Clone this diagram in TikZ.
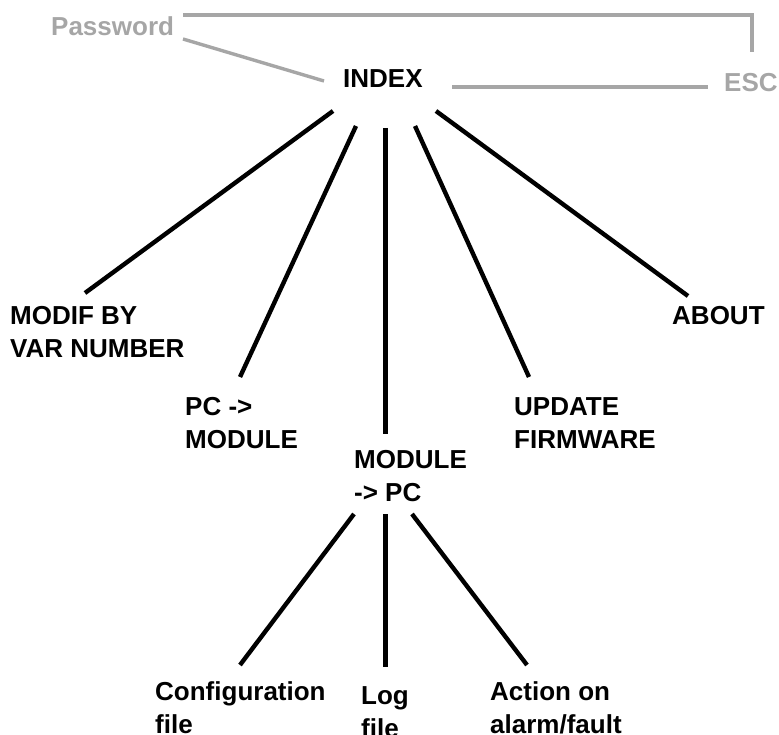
\documentclass[tikz,border=0pt]{standalone}
\usepackage{fontspec}
\setmainfont{Liberation Sans}
\definecolor{linegray}{HTML}{A6A6A6}
\begin{document}
\begin{tikzpicture}[x=1pt,y=-1pt,
  lbl/.style={anchor=north west,inner sep=0pt,align=left,font=\fontsize{26}{33}\selectfont\bfseries},
  glbl/.style={lbl,text=linegray},
  blk/.style={line width=4.4pt,black},
  gry/.style={line width=3.4pt,linegray}]
\useasboundingbox (0,0) rectangle (779,735);
% labels (north = baseline - 18.6)
\node[glbl] (pw) at (51,16.4) {Password};
\node[lbl] (index) at (343,69.4) {INDEX};
\node[glbl] (esc) at (724,73.4) {ESC};
\node[lbl] (modif) at (10,306.4) {MODIF BY\\VAR NUMBER};
\node[lbl] (pcmod) at (185,397.4) {PC ->\\MODULE};
\node[lbl] (modpc) at (354,450.4) {MODULE\\-> PC};
\node[lbl] (upd) at (514,397.4) {UPDATE\\FIRMWARE};
\node[lbl] (about) at (672,306.4) {ABOUT};
\node[lbl] (conf) at (155,681) {Configuration\\file};
\node[lbl] (log) at (361,686) {Log\\file};
\node[lbl] (act) at (490,681) {Action on\\alarm/fault};
% connector end points
\coordinate (pw-t) at (183,15);
\coordinate (corner) at (752,15);
\coordinate (esc-t) at (752,52);
\coordinate (pw-b) at (183,39);
\coordinate (idx-w) at (324,81);
\coordinate (idx-e) at (452,87);
\coordinate (esc-w) at (708,87);
\coordinate (i1) at (333,111);
\coordinate (i2) at (356,126);
\coordinate (i3) at (385.5,128);
\coordinate (i4) at (415,126);
\coordinate (i5) at (436,111);
\coordinate (modif-t) at (85,293);
\coordinate (pcmod-t) at (240,377);
\coordinate (modpc-t) at (385.5,434);
\coordinate (upd-t) at (529,377);
\coordinate (about-t) at (688,296);
\coordinate (m1) at (354,514);
\coordinate (m2) at (385.5,514);
\coordinate (m3) at (412,514);
\coordinate (conf-t) at (240,665);
\coordinate (log-t) at (385.5,667);
\coordinate (act-t) at (527,665);
% gray connectors
\draw[gry] (pw-t) -- (corner) -- (esc-t);
\draw[gry] (pw-b) -- (idx-w);
\draw[gry] (idx-e) -- (esc-w);
% black connectors
\draw[blk] (i1) -- (modif-t);
\draw[blk] (i2) -- (pcmod-t);
\draw[blk] (i3) -- (modpc-t);
\draw[blk] (i4) -- (upd-t);
\draw[blk] (i5) -- (about-t);
\draw[blk] (m1) -- (conf-t);
\draw[blk] (m2) -- (log-t);
\draw[blk] (m3) -- (act-t);
\end{tikzpicture}
\end{document}
